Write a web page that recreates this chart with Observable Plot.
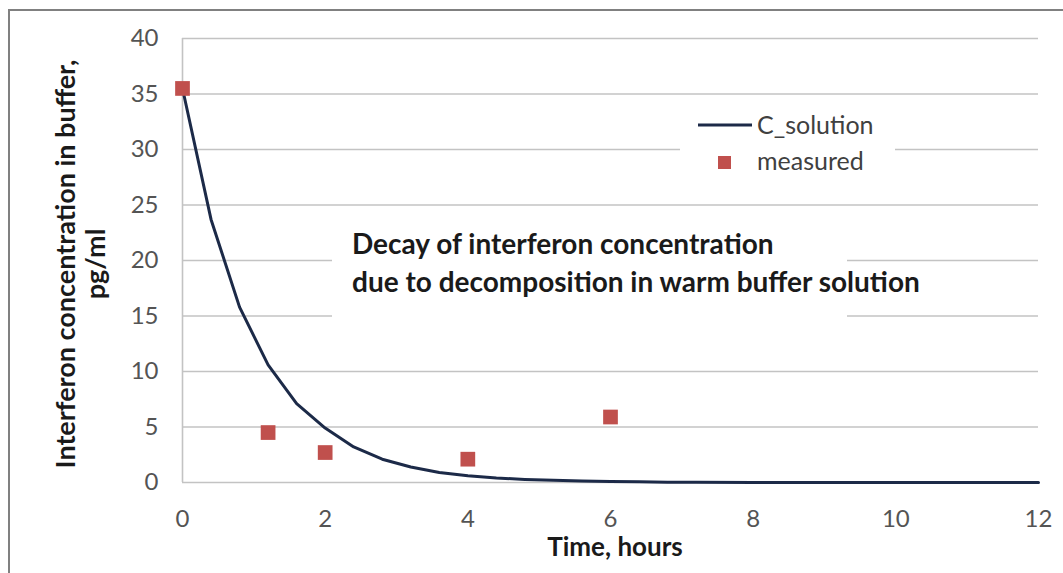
<!DOCTYPE html>
<html><head><meta charset="utf-8">
<script src="https://cdn.jsdelivr.net/npm/d3@7"></script>
<script src="https://cdn.jsdelivr.net/npm/@observablehq/plot@0.6"></script>
<style>
html,body{margin:0;padding:0;background:#fff;}
#wrap{position:relative;width:1063px;height:573px;overflow:hidden;}
#wrap svg{display:block;}
#frame{position:absolute;left:8px;top:9px;width:2000px;height:2000px;border-left:2px solid #808080;border-top:2px solid #808080;box-sizing:border-box;pointer-events:none;}
</style></head><body><div id="wrap"></div>
<script>
// C_solution curve (hours, pg/ml)
const solutionTime = [0,0.4,0.8,1.2,1.6,2.0,2.4,2.8,3.2,3.6,4.0,4.4,4.8,5.2,5.6,6.0,6.4,6.8,7.2,8,9,10,11,12];
const solutionConc = [35.5,23.7,15.8,10.6,7.1,4.9,3.2,2.1,1.4,0.9,0.6,0.4,0.28,0.2,0.13,0.09,0.06,0.03,0.02,0.01,0,0,0,0];
// measured points
const measuredTime = [0,1.2,2,4,6];
const measuredConc = [35.5,4.5,2.7,2.1,5.9];
// axes
const xTicks = [0,2,4,6,8,10,12];
const yTicks = [0,5,10,15,20,25,30,35,40];
const xTitle = "Time, hours";
const yTitleLines = ["Interferon concentration in buffer,", "pg/ml"];
const legendLabels = ["C_solution", "measured"];
const noteLines = ["Decay of interferon concentration", "due to decomposition in warm buffer solution"];

const lineColor = "#1c2a48";
const pointColor = "#c0504d";
const gridColor = "#c3c3c3";
const font = "Lato, 'Open Sans', sans-serif";

const solution = solutionTime.map((t,i)=>({t, c: solutionConc[i]}));
const measured = measuredTime.map((t,i)=>({t, c: measuredConc[i]}));

const svg = Plot.plot({
  width: 1063, height: 573,
  marginLeft: 182, marginRight: 25, marginTop: 38, marginBottom: 91,
  style: {fontFamily: font, background: "#fff", overflow: "visible"},
  x: {domain: [0,12], ticks: xTicks},
  y: {domain: [0,40], ticks: yTicks},
  marks: [
    Plot.gridY(yTicks, {stroke: gridColor, strokeOpacity: 1, strokeWidth: 1.6}),
    Plot.ruleX([0], {stroke: gridColor, strokeWidth: 1.6}),
    Plot.axisY(yTicks, {tickSize: 0, tickPadding: 24, fontSize: 24, fill: "#545454", label: null}),
    Plot.axisX(xTicks, {tickSize: 0, tickPadding: 27, fontSize: 24, fill: "#545454", label: null}),
    Plot.line(solution, {x: "t", y: "c", stroke: lineColor, strokeWidth: 3}),
    Plot.dot(measured, {x: "t", y: "c", symbol: "square", r: 8.3, fill: pointColor, stroke: "none"})
  ]
});
const wrap = document.getElementById("wrap");
wrap.appendChild(svg);
const frame = document.createElement("div");
frame.id = "frame";
wrap.appendChild(frame);

const s = d3.select(svg);
// frame top edge also inside the svg
s.append("line").attr("x1", 8).attr("x2", 1063).attr("y1", 10).attr("y2", 10)
  .attr("stroke", "#808080").attr("stroke-width", 2);

// annotation box
const note = s.append("g").attr("text-anchor", "start");
note.append("rect").attr("x", 332).attr("y", 220).attr("width", 515).attr("height", 104).attr("fill", "#fff");
note.selectAll("text").data(noteLines).join("text")
  .attr("x", 352).attr("y", (d,i)=> 254 + i*38)
  .attr("font-size", 28).attr("font-weight", "bold").attr("fill", "#1a1a1a")
  .attr("font-family", font).text(d=>d);

// legend
const leg = s.append("g").attr("text-anchor", "start");
leg.append("rect").attr("x", 680).attr("y", 106).attr("width", 215).attr("height", 74).attr("fill", "#fff");
leg.append("line").attr("x1", 698).attr("x2", 752).attr("y1", 125).attr("y2", 125)
  .attr("stroke", lineColor).attr("stroke-width", 3);
leg.append("rect").attr("x", 718).attr("y", 156).attr("width", 13).attr("height", 13).attr("fill", pointColor);
leg.selectAll("text").data(legendLabels).join("text")
  .attr("x", 757).attr("y", (d,i)=> 134 + i*36)
  .attr("font-size", 25).attr("fill", "#404040").attr("font-family", font).text(d=>d);

// axis titles
s.append("text").attr("x", 615).attr("y", 556).attr("text-anchor", "middle")
  .attr("font-size", 26).attr("font-weight", "bold").attr("fill", "#1a1a1a").attr("font-family", font).text(xTitle);
const yt = s.append("g").attr("transform", "translate(0,264) rotate(-90)");
yt.selectAll("text").data(yTitleLines).join("text")
  .attr("x", 0).attr("y", (d,i)=> 75 + i*30).attr("text-anchor", "middle")
  .attr("font-size", 27).attr("font-weight", "bold").attr("fill", "#1a1a1a").attr("font-family", font).text(d=>d);
</script></body></html>
